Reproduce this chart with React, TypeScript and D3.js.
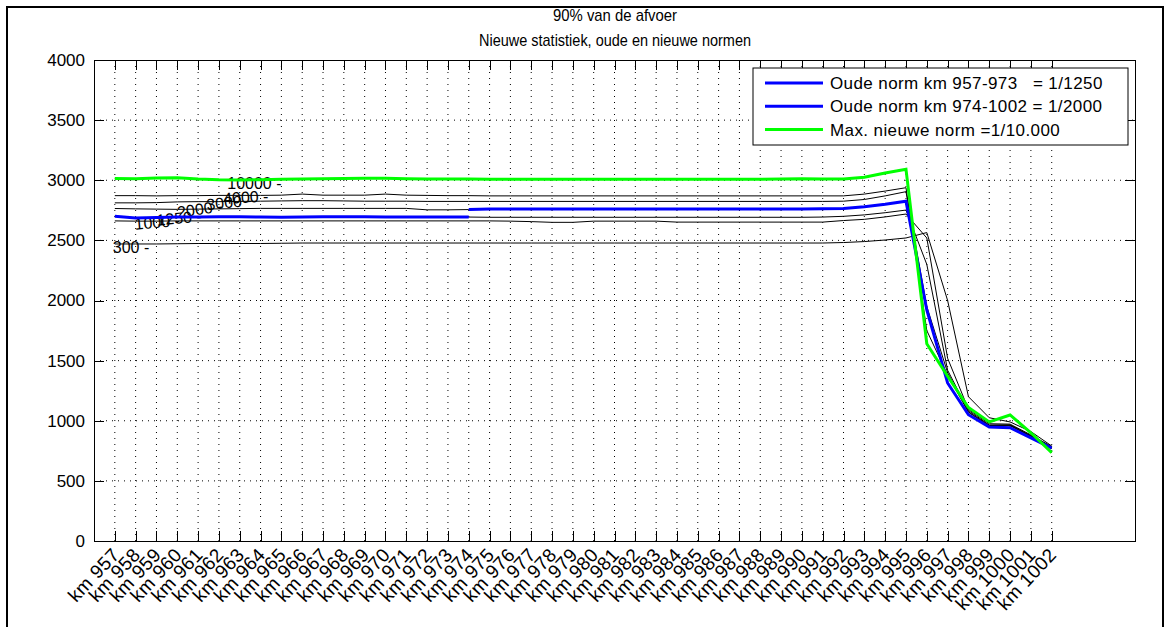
import { useEffect, useRef } from "react";
import * as d3 from "d3";

// kilometer posts along the river
const kms = d3.range(957, 1003);
const tickLabels = kms.map((k) => "km " + k);
const yTicks = [0, 500, 1000, 1500, 2000, 2500, 3000, 3500, 4000];

// 90% discharge per return period (m3/s), km 957 .. km 1002
const norm300 = [
  2470, 2470, 2470, 2472, 2474, 2474, 2474, 2474, 2476, 2478, 2478, 2478, 2478, 2478, 2478, 2478, 2478, 2478,
  2478, 2478, 2478, 2478, 2478, 2478, 2478, 2478, 2478, 2478, 2478, 2478, 2478, 2478, 2478, 2478, 2478,
  2482, 2490, 2503, 2520, 2565, 2000, 1200, 1025, 990, 910, 790,
];
const norm1000 = [
  2662, 2660, 2660, 2662, 2662, 2662, 2662, 2662, 2662, 2662, 2662, 2662, 2662, 2662, 2662, 2662, 2662, 2662,
  2662, 2660, 2656, 2650, 2650, 2660, 2660, 2660, 2660, 2652, 2652, 2652, 2652, 2652, 2652, 2652, 2652,
  2665, 2675, 2695, 2719, 2520, 1520, 1095, 975, 972, 882, 785,
];
const norm1250 = [
  2700, 2686, 2690, 2694, 2694, 2696, 2696, 2694, 2692, 2694, 2696, 2696, 2696, 2694, 2694, 2694, 2694, 2694,
  2692, 2692, 2692, 2692, 2692, 2692, 2692, 2692, 2692, 2692, 2692, 2692, 2692, 2692, 2692, 2692, 2694,
  2700, 2712, 2730, 2752, 2300, 1420, 1085, 965, 966, 876, 780,
];
const norm2000 = [
  2765, 2762, 2760, 2758, 2760, 2762, 2764, 2766, 2766, 2766, 2766, 2766, 2766, 2766, 2766, 2754, 2754, 2756,
  2761, 2761, 2761, 2761, 2761, 2761, 2761, 2761, 2761, 2761, 2761, 2761, 2761, 2761, 2761, 2761, 2762,
  2765, 2780, 2800, 2825, 1921, 1314, 1050, 948, 942, 857, 773,
];
const norm3000 = [
  2812, 2812, 2814, 2820, 2822, 2822, 2824, 2826, 2828, 2830, 2830, 2828, 2826, 2826, 2826, 2824, 2824, 2824,
  2824, 2824, 2824, 2824, 2824, 2824, 2824, 2824, 2824, 2824, 2824, 2824, 2824, 2824, 2824, 2824, 2824,
  2826, 2840, 2870, 2905, 1950, 1400, 1075, 960, 962, 872, 775,
];
const norm4000 = [
  2872, 2872, 2870, 2872, 2872, 2874, 2874, 2874, 2876, 2885, 2876, 2876, 2876, 2885, 2876, 2874, 2872, 2872,
  2870, 2870, 2870, 2870, 2870, 2870, 2870, 2870, 2870, 2870, 2870, 2870, 2870, 2870, 2870, 2870, 2870,
  2870, 2885, 2910, 2938, 1750, 1380, 1070, 955, 958, 868, 770,
];
const norm10000 = [
  3015, 3012, 3018, 3020, 3010, 3004, 3002, 3004, 3008, 3010, 3012, 3014, 3016, 3016, 3012, 3010, 3010, 3010,
  3008, 3008, 3008, 3008, 3008, 3008, 3008, 3008, 3008, 3008, 3008, 3008, 3008, 3008, 3010, 3012, 3010,
  3010, 3025, 3060, 3092, 1640, 1370, 1110, 990, 1048, 900, 735,
];

const contourSeries = [norm300, norm1000, norm1250, norm2000, norm3000, norm4000, norm10000];
const contourNames = ["300", "1000", "1250", "2000", "3000", "4000", "10000"];

// old norms: 1/1250 for km 957-974, 1/2000 for km 974-1002
const oudeNorm1250 = norm1250.slice(0, 18);
const oudeNorm2000 = norm2000.slice(17);

const legendLabels = [
  "Oude norm km 957-973   = 1/1250",
  "Oude norm km 974-1002 = 1/2000",
  "Max. nieuwe norm =1/10.000",
];

const FONT = "'Liberation Sans', Arial, Helvetica, sans-serif";

export default function App() {
  const ref = useRef(null);

  useEffect(() => {
    const W = 1170;
    const H = 627;
    const MARGIN = { LEFT: 94, RIGHT: 35, TOP: 60, BOTTOM: 86 };
    const WIDTH = W - MARGIN.LEFT - MARGIN.RIGHT;
    const HEIGHT = H - MARGIN.TOP - MARGIN.BOTTOM;

    const svg = d3.select(ref.current);
    svg.selectAll("*").remove();

    svg.append("rect").attr("width", W).attr("height", H).attr("fill", "#fff");
    // figure frame
    svg
      .append("rect")
      .attr("x", 7)
      .attr("y", 7)
      .attr("width", 1156)
      .attr("height", 640)
      .attr("fill", "none")
      .attr("stroke", "#000")
      .attr("stroke-width", 2);

    // title (narrow, tall glyphs like the original)
    const title = svg.append("g").attr("font-family", FONT).attr("font-size", 17).attr("text-anchor", "middle");
    title
      .append("text")
      .attr("x", 615)
      .attr("y", 21)
      .attr("textLength", 124)
      .attr("lengthAdjust", "spacingAndGlyphs")
      .text("90% van de afvoer");
    title
      .append("text")
      .attr("x", 615)
      .attr("y", 46)
      .attr("textLength", 272)
      .attr("lengthAdjust", "spacingAndGlyphs")
      .text("Nieuwe statistiek, oude en nieuwe normen");

    const g = svg.append("g").attr("transform", `translate(${MARGIN.LEFT}, ${MARGIN.TOP})`);

    const x = d3.scaleLinear().domain([0, 50]).range([0, WIDTH]);
    const y = d3.scaleLinear().domain([0, 4000]).range([HEIGHT, 0]);
    const xi = (i) => x(i + 1);

    // dotted grid
    g.append("g")
      .selectAll("line")
      .data(kms)
      .join("line")
      .attr("x1", (d, i) => xi(i))
      .attr("x2", (d, i) => xi(i))
      .attr("y1", 0)
      .attr("y2", HEIGHT)
      .attr("stroke", "#000")
      .attr("stroke-width", 1)
      .attr("stroke-dasharray", "1,5");
    g.append("g")
      .selectAll("line")
      .data(yTicks.slice(1, -1))
      .join("line")
      .attr("x1", 0)
      .attr("x2", WIDTH)
      .attr("y1", (d) => y(d))
      .attr("y2", (d) => y(d))
      .attr("stroke", "#000")
      .attr("stroke-width", 1)
      .attr("stroke-dasharray", "1,5");

    // inward ticks on all four sides
    const TL = 10;
    const ticks = g.append("g").attr("stroke", "#000").attr("stroke-width", 1);
    kms.forEach((k, i) => {
      const px = Math.round(xi(i)) + 0.5;
      ticks.append("line").attr("x1", px).attr("x2", px).attr("y1", 0).attr("y2", TL);
      ticks.append("line").attr("x1", px).attr("x2", px).attr("y1", HEIGHT).attr("y2", HEIGHT - TL);
    });
    yTicks.forEach((v) => {
      const py = Math.round(y(v)) + 0.5;
      ticks.append("line").attr("x1", 0).attr("x2", TL).attr("y1", py).attr("y2", py);
      ticks.append("line").attr("x1", WIDTH).attr("x2", WIDTH - TL).attr("y1", py).attr("y2", py);
    });

    // y labels
    g.append("g")
      .attr("font-family", FONT)
      .attr("font-size", 17)
      .attr("text-anchor", "end")
      .selectAll("text")
      .data(yTicks)
      .join("text")
      .attr("x", -9)
      .attr("y", (d) => y(d))
      .attr("dy", "0.35em")
      .text((d) => d);

    // x labels, rotated
    g.append("g")
      .attr("font-family", FONT)
      .attr("font-size", 19)
      .attr("letter-spacing", 0.5)
      .attr("text-anchor", "end")
      .selectAll("text")
      .data(tickLabels)
      .join("text")
      .attr("transform", (d, i) => `translate(${xi(i) + 1}, ${HEIGHT + 10}) rotate(-47)`)
      .attr("dy", "0.35em")
      .text((d) => d);

    const line = d3
      .line()
      .x((d) => xi(d[0]))
      .y((d) => y(d[1]));
    const pts = (arr, offset = 0) => arr.map((v, i) => [i + offset, v]);

    // black return-period lines
    contourSeries.forEach((s) => {
      g.append("path")
        .attr("d", line(pts(s)))
        .attr("fill", "none")
        .attr("stroke", "#000")
        .attr("stroke-width", 1);
    });

    // contour labels
    const labelAt = [0.9, 1.95, 3.0, 4.0, 5.4, 6.2, 6.4];
    const labelRot = [0, -5, -5, -8, -6, -3, 0];
    const labels = g.append("g").attr("font-family", FONT).attr("font-size", 16).attr("fill", "#000");
    contourNames.forEach((name, k) => {
      const lx = x(labelAt[k]);
      const ly = y(contourSeries[k][Math.round(labelAt[k])]) + 3;
      labels
        .append("text")
        .attr("transform", `translate(${lx}, ${ly}) rotate(${labelRot[k]})`)
        .attr("dy", "0.35em")
        .text(name + " -");
    });

    // old norms (blue) and new max norm (green)
    g.append("path")
      .attr("d", line(pts(oudeNorm1250)))
      .attr("fill", "none")
      .attr("stroke", "#0000ff")
      .attr("stroke-width", 3);
    g.append("path")
      .attr("d", line(pts(oudeNorm2000, 17)))
      .attr("fill", "none")
      .attr("stroke", "#0000ff")
      .attr("stroke-width", 3);
    g.append("path")
      .attr("d", line(pts(norm10000)))
      .attr("fill", "none")
      .attr("stroke", "#00ff00")
      .attr("stroke-width", 3);

    // axes box
    g.append("rect")
      .attr("x", 0.5)
      .attr("y", 0.5)
      .attr("width", WIDTH)
      .attr("height", HEIGHT)
      .attr("fill", "none")
      .attr("stroke", "#000")
      .attr("stroke-width", 1);

    // legend
    const lg = svg.append("g").attr("transform", "translate(753, 68)");
    lg.append("rect")
      .attr("width", 375)
      .attr("height", 77)
      .attr("fill", "#fff")
      .attr("stroke", "#000")
      .attr("stroke-width", 1);
    const legendColors = ["#0000ff", "#0000ff", "#00ff00"];
    legendLabels.forEach((t, i) => {
      const ly = 15 + i * 23.3;
      lg.append("line")
        .attr("x1", 12)
        .attr("x2", 70)
        .attr("y1", ly)
        .attr("y2", ly)
        .attr("stroke", legendColors[i])
        .attr("stroke-width", 3);
      lg.append("text")
        .attr("x", 77)
        .attr("y", ly)
        .attr("dy", "0.35em")
        .attr("font-family", FONT)
        .attr("font-size", 17)
        .attr("letter-spacing", 0.4)
        .style("white-space", "pre")
        .text(t);
    });
  }, []);

  return (
    <svg
      ref={ref}
      width={1170}
      height={627}
      style={{ position: "absolute", left: 0, top: 0, display: "block" }}
    />
  );
}
